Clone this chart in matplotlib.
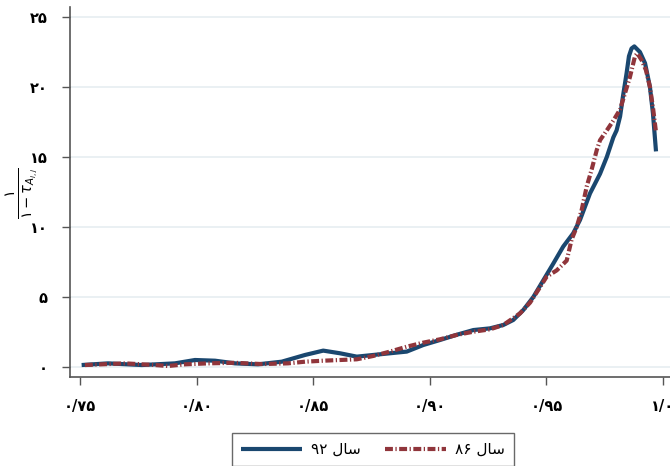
import matplotlib
matplotlib.use("Agg")
import matplotlib.pyplot as plt

plt.rcParams['font.family'] = ['DejaVu Sans']

# Data
x92 = [0.7507, 0.7620, 0.7765, 0.7907, 0.7993, 0.8079, 0.8165, 0.8263, 0.8365, 0.8465,
       0.8543, 0.8615, 0.8687, 0.8758, 0.8829, 0.8901, 0.8972, 0.9044, 0.9115, 0.9187,
       0.9258, 0.9315, 0.9358, 0.9401, 0.9444, 0.9487, 0.9530, 0.9572, 0.9615, 0.9644,
       0.9687, 0.9730, 0.9759, 0.9787, 0.9801, 0.9816, 0.9828, 0.9844, 0.9854, 0.9865,
       0.9877, 0.9901, 0.9923, 0.9944, 0.9957, 0.9970]
y92 = [0.14, 0.26, 0.14, 0.26, 0.5, 0.45, 0.26, 0.19, 0.38, 0.86,
       1.17, 0.98, 0.74, 0.86, 0.98, 1.1, 1.57, 1.93, 2.3, 2.64,
       2.76, 3.0, 3.36, 4.07, 5.0, 6.2, 7.4, 8.6, 9.55, 10.5,
       12.4, 13.8, 15.0, 16.4, 16.9, 17.9, 19.3, 21.0, 22.2, 22.75,
       22.9, 22.5, 21.7, 20.0, 18.1, 15.4]

x86 = [0.7521, 0.7693, 0.7822, 0.7877, 0.7950, 0.8049, 0.8165, 0.8280, 0.8392, 0.8465,
       0.8543, 0.8687, 0.8758, 0.8829, 0.8901, 0.8972, 0.9044, 0.9115, 0.9187, 0.9258,
       0.9315, 0.9387, 0.9430, 0.9465, 0.9501, 0.9544, 0.9587, 0.9608, 0.9630, 0.9651,
       0.9673, 0.9694, 0.9716, 0.9730, 0.9759, 0.9787, 0.9816, 0.9858, 0.9880, 0.9890,
       0.9909, 0.9927, 0.9944, 0.9958, 0.9969]
y86 = [0.14, 0.26, 0.14, 0.07, 0.19, 0.26, 0.3, 0.21, 0.26, 0.38,
       0.45, 0.55, 0.79, 1.1, 1.45, 1.74, 1.98, 2.29, 2.52, 2.69,
       3.0, 3.83, 4.6, 5.5, 6.45, 6.9, 7.6, 9.1, 10.0, 11.2,
       12.9, 14.1, 15.5, 16.2, 16.9, 17.6, 18.4, 20.7, 22.2, 22.4,
       21.9, 21.2, 20.0, 18.4, 16.9]

xticks = [0.75, 0.80, 0.85, 0.90, 0.95, 1.0]
xticklabels = ['۰/۷۵', '۰/۸۰', '۰/۸۵', '۰/۹۰', '۰/۹۵', '۱/۰']
yticks = [0, 5, 10, 15, 20, 25]
yticklabels = ['۰', '۵', '۱۰', '۱۵', '۲۰', '۲۵']

label92 = '۹۲ ﻝﺎﺳ'
label86 = '۸۶ ﻝﺎﺳ'

navy = '#1a476f'
maroon = '#90353b'

fig = plt.figure(figsize=(6.7, 4.66), dpi=100)
ax = fig.add_axes([70/670, 1 - 377/466, 1 - 70/670, (377 - 7)/466])

ax.plot(x92, y92, color=navy, lw=3, solid_capstyle='butt', solid_joinstyle='round',
        label=label92, zorder=3)
ax.plot(x86, y86, color=maroon, lw=3, linestyle=(0, (1.9, 0.6, 0.3, 0.6)),
        dash_capstyle='butt', label=label86, zorder=4)

ax.set_xlim(0.75 - 10/2332, 0.75 + 590/2332)
ax.set_ylim((367 - 377)/14, (367 - 7)/14)

ax.set_xticks(xticks)
ax.set_xticklabels(xticklabels, fontsize=10.5, fontweight='bold')
ax.set_yticks(yticks)
ax.set_yticklabels(yticklabels, fontsize=10.5, fontweight='bold')

ax.yaxis.grid(True, color='#e6eef1', lw=1.2)
ax.set_axisbelow(True)
for s in ['top', 'right']:
    ax.spines[s].set_visible(False)
for s in ['left', 'bottom']:
    ax.spines[s].set_color('#555555')
    ax.spines[s].set_linewidth(1.2)
ax.tick_params(axis='both', direction='out', length=6, width=1.0, color='#555555')
ax.tick_params(axis='x', pad=10)
ax.tick_params(axis='y', pad=10)

fig.text(22/670, 1 - 193/466, r'$\frac{۱}{۱ - \tau_{A_{i,j}}}$', rotation=90,
         ha='center', va='center', fontsize=15)

leg = fig.legend(loc='upper center', bbox_to_anchor=(373/670, 1 - 433/466),
                 ncol=2, frameon=True, fancybox=False, edgecolor='#444444',
                 handlelength=4.0, columnspacing=1.6, handletextpad=0.6,
                 fontsize=11, borderpad=0.6, borderaxespad=0.0)
leg.get_frame().set_linewidth(1.0)

fig.savefig('out.png', dpi=100)
